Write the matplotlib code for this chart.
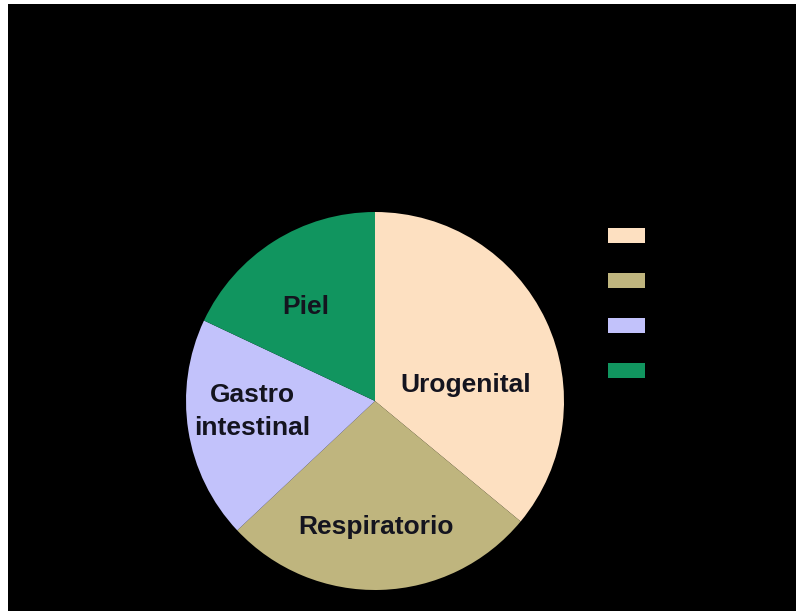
import matplotlib
matplotlib.use("Agg")
import matplotlib.pyplot as plt

# infection sites, share of cases (%)
sites = ["Urogenital", "Respiratorio", "Gastro\nintestinal", "Piel"]
legend_names = ["Urogenital", "Respiratorio", "Gastro intestinal", "Piel"]
shares = [36, 27, 19, 18]
colors = ["#FDE0C1", "#BFB57E", "#C2C2FB", "#11955F"]

# where each wedge label sits, in pie radius units
label_pos = [(0.48, 0.085), (0.005, -0.667), (-0.651, -0.055), (-0.365, 0.497)]

plt.rcParams['font.family'] = ['Liberation Sans', 'DejaVu Sans']

W, H = 796, 611
fig = plt.figure(figsize=(W / 100, H / 100), dpi=100, facecolor="white")

# black slide area, thin white strip on the left and top
bg = fig.add_axes([8 / W, 0, 1 - 8 / W, 1 - 4 / H])
bg.set_facecolor("black")
bg.set_xticks([])
bg.set_yticks([])
for s in bg.spines.values():
    s.set_visible(False)

cx, cy, r = 375, 401, 189
ax = fig.add_axes([(cx - r) / W, (H - cy - r) / H, 2 * r / W, 2 * r / H])
ax.set_facecolor("none")
wedges, _ = ax.pie(shares, colors=colors, startangle=90, counterclock=False,
                   radius=1, wedgeprops=dict(linewidth=0))
ax.set_xlim(-1, 1)
ax.set_ylim(-1, 1)
ax.axis("off")

for name, (x, y) in zip(sites, label_pos):
    ax.text(x, y, name, ha="center", va="center", fontsize=19,
            fontweight="bold", color="#14141f", linespacing=1.45)

leg = fig.legend(wedges, legend_names, loc="upper left",
                 bbox_to_anchor=(608 / W, 1 - 228 / H), frameon=False,
                 fontsize=12, handlelength=2.2, handleheight=1.0,
                 labelspacing=1.73, borderpad=0, borderaxespad=0,
                 handletextpad=0.8)
for t in leg.get_texts():
    t.set_color("black")

fig.savefig("out.png", dpi=100, facecolor=fig.get_facecolor())
